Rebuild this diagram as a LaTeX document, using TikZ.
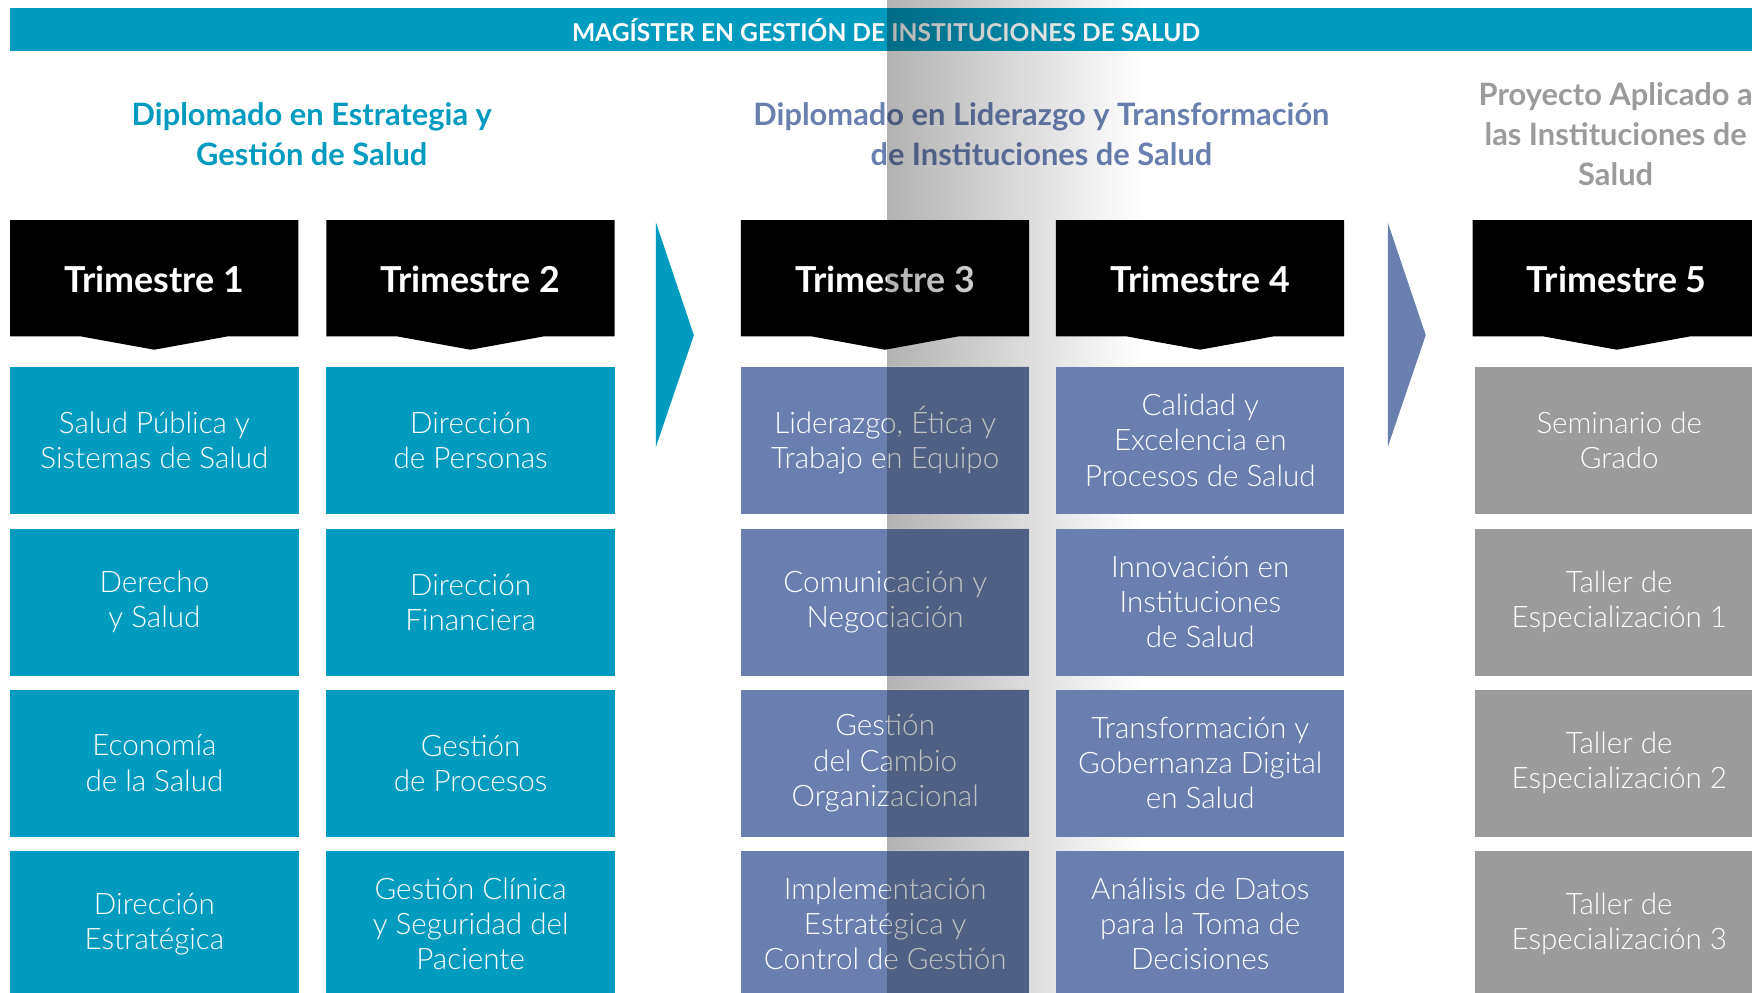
\documentclass[tikz,border=0pt]{standalone}
\usepackage{fontspec}
\setmainfont{Lato}[UprightFont={* Light},BoldFont={* Bold}]
\definecolor{cTeal}{HTML}{009BBF}
\definecolor{cSlate}{HTML}{6A7FB0}
\definecolor{cGray}{HTML}{9B9B9B}
\newcommand\mybody{\fontsize{26.5}{31.5}\selectfont}
\newcommand\myhdr{\fontsize{32}{36}\selectfont\bfseries}
\newcommand\myhead{\fontsize{27.6}{36}\selectfont\bfseries}
\newcommand\mybanner{\fontsize{22}{24}\selectfont\bfseries}
\newcommand\trim[3]{%
  \fill[black] (#1,197) -- ++(258,0) -- ++(0,104) -- ++(-63,0) -- ++(-66,12) -- ++(-66,-12) -- ++(-63,0) -- cycle;
  \node[hdrtext] (#2) at ([xshift=129pt]#1,250) {#3};}
\begin{document}
\begin{tikzpicture}[x=1pt,y=-1pt,
  box/.style={minimum width=258pt,minimum height=131.5pt,inner sep=0pt,align=center,text=white,font=\mybody,anchor=north west},
  tealbox/.style={box,fill=cTeal},
  slatebox/.style={box,fill=cSlate},
  graybox/.style={box,fill=cGray},
  hdrtext/.style={text=white,font=\myhdr,inner sep=0pt},
  heading/.style={align=center,font=\myhead,inner sep=0pt}]
\useasboundingbox (0,0) rectangle (1568,888);
\clip (0,0) rectangle (1568,888);
% banner
\fill[cTeal] (9,7) rectangle (1580,46);
\node[text=white,font=\mybanner,inner sep=0pt] (banner) at (793,27) {MAGÍSTER EN GESTIÓN DE INSTITUCIONES DE SALUD};
% headings
\node[heading,text=cTeal] (h1) at (279,120) {Diplomado en Estrategia y\\Gestión de Salud};
\node[heading,text=cSlate] (h2) at (932,120) {Diplomado en Liderazgo y Transformación\\de Instituciones de Salud};
\node[heading,text=cGray] (h3) at (1446,120) {Proyecto Aplicado a\\las Instituciones de\\Salud};
% headers
\trim{9}{t1}{Trimestre 1}
\trim{292}{t2}{Trimestre 2}
\trim{663}{t3}{Trimestre 3}
\trim{1318}{t5}{Trimestre 5}
% chevrons
\fill[cTeal] (587,199) -- (621,300) -- (587,400) -- cycle;
\fill[cSlate] (1242,199) -- (1276,300) -- (1242,400) -- cycle;
% column 1
\node[tealbox] (a1) at (9,328) {Salud Pública y\\Sistemas de Salud};
\node[tealbox] (a2) at (9,473) {Derecho\\y Salud};
\node[tealbox] (a3) at (9,617) {Economía\\de la Salud};
\node[tealbox] (a4) at (9,761) {Dirección\\Estratégica};
% column 2
\node[tealbox] (b1) at (292,328) {Dirección\\de Personas};
\node[tealbox] (b2) at (292,473) {Dirección\\Financiera};
\node[tealbox] (b3) at (292,617) {Gestión\\de Procesos};
\node[tealbox] (b4) at (292,761) {Gestión Clínica\\y Seguridad del\\Paciente};
% column 3
\node[slatebox] (c1) at (663,328) {Liderazgo, Ética y\\Trabajo en Equipo};
\node[slatebox] (c2) at (663,473) {Comunicación y\\Negociación};
\node[slatebox] (c3) at (663,617) {Gestión\\del Cambio\\Organizacional};
\node[slatebox] (c4) at (663,761) {Implementación\\Estratégica y\\Control de Gestión};
% column 5
\node[graybox] (e1) at (1320,328) {Seminario de\\Grado};
\node[graybox] (e2) at (1320,473) {Taller de\\Especialización 1};
\node[graybox] (e3) at (1320,617) {Taller de\\Especialización 2};
\node[graybox] (e4) at (1320,761) {Taller de\\Especialización 3};
% shadow band
\begin{scope}[blend mode=multiply]
  \begin{scope}
    \clip (794,-2) rectangle (921,328) (794,459.5) rectangle (921,473)
          (794,604.5) rectangle (921,617) (794,748.5) rectangle (921,761)
          (921,-2) rectangle (1022,890);
    \shade[left color=black!30,right color=white] (794,-2) rectangle (1022,890);
  \end{scope}
  \fill[black!24] (794,328) rectangle (921,459.5) (794,473) rectangle (921,604.5)
        (794,617) rectangle (921,748.5) (794,761) rectangle (921,892);
\end{scope}
% column 4
\trim{945}{t4}{Trimestre 4}
\node[slatebox] (d1) at (945,328) {Calidad y\\Excelencia en\\Procesos de Salud};
\node[slatebox] (d2) at (945,473) {Innovación en\\Instituciones\\de Salud};
\node[slatebox] (d3) at (945,617) {Transformación y\\Gobernanza Digital\\en Salud};
\node[slatebox] (d4) at (945,761) {Análisis de Datos\\para la Toma de\\Decisiones};
\end{tikzpicture}
\end{document}
